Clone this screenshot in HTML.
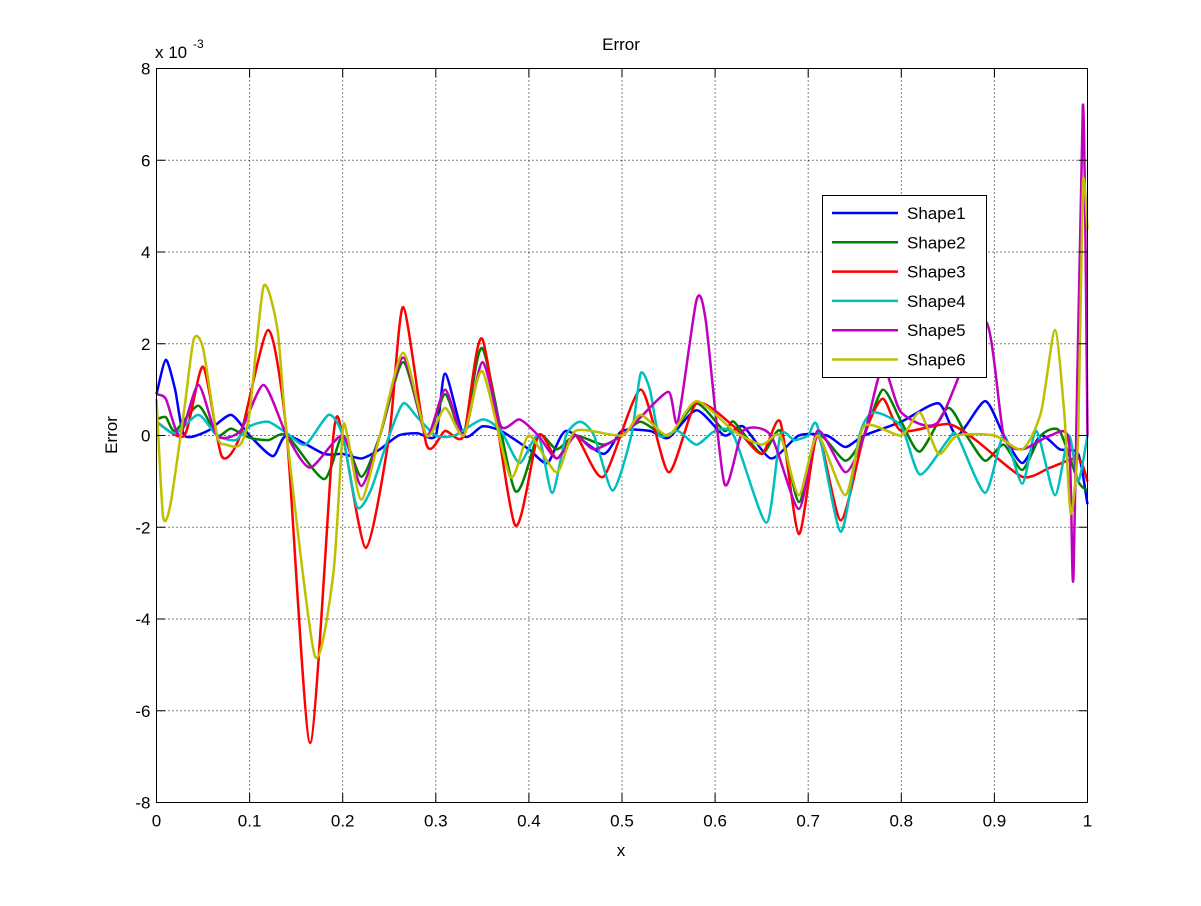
<!DOCTYPE html>
<html><head><meta charset="utf-8"><style>
body{margin:0;background:#fff}
svg text{font-family:"Liberation Sans",sans-serif;fill:#000}
</style></head><body>
<svg id="s" width="1201" height="901" xmlns="http://www.w3.org/2000/svg">
<rect width="1201" height="901" fill="#fff"/>
<g id="grid" stroke="#000" stroke-width="1" stroke-dasharray="1,3" fill="none"></g>
<g id="series" fill="none" stroke-width="2.5" stroke-linejoin="round"></g>
<rect x="156.5" y="68.5" width="931" height="734" fill="none" stroke="#000"/>
<g id="ticks" stroke="#000"></g>
<g id="labels" font-size="17"></g>
<text x="621" y="50" font-size="17" text-anchor="middle">Error</text>
<text x="155" y="58" font-size="17">x 10</text><text x="193" y="48" font-size="12">-3</text>
<text x="621" y="856" font-size="17" text-anchor="middle">x</text>
<text transform="translate(117,435) rotate(-90)" font-size="17" text-anchor="middle">Error</text>
<g>
<rect x="822.5" y="195.5" width="164" height="182" fill="#fff" stroke="#000"/>
<g id="leg" font-size="17"></g>
</g>
</svg>
<script>
const L=156.5,R=1087.5,T=68.5,B=802.5;
const X=x=>L+(R-L)*x, Y=v=>T+(B-T)*(8-v)/16;
const NS="http://www.w3.org/2000/svg";
function el(p,t,a,txt){const e=document.createElementNS(NS,t);for(const k in a)e.setAttribute(k,a[k]);if(txt!=null)e.textContent=txt;document.getElementById(p).appendChild(e);return e;}
for(let i=1;i<10;i++){el('grid','line',{x1:X(i/10),x2:X(i/10),y1:T,y2:B});}
for(let v=-6;v<=6;v+=2){el('grid','line',{x1:L,x2:R,y1:Y(v),y2:Y(v)});}
for(let i=0;i<=10;i++){const x=X(i/10);el('ticks','line',{x1:x,x2:x,y1:B,y2:B-9});el('ticks','line',{x1:x,x2:x,y1:T,y2:T+9});
el('labels','text',{x:x,y:B+24,'text-anchor':'middle'},i==0?'0':i==10?'1':'0.'+i);}
for(let v=-8;v<=8;v+=2){const y=Y(v);el('ticks','line',{x1:L,x2:L+9,y1:y,y2:y});el('ticks','line',{x1:R,x2:R-9,y1:y,y2:y});
el('labels','text',{x:L-6,y:y+6,'text-anchor':'end'},String(v));}
const D={
'#0000ff':[0,0.9,0.01,1.65,0.02,1.0,0.03,0,0.055,0.1,0.08,0.45,0.1,0,0.125,-0.45,0.14,0,0.18,-0.4,0.2,-0.4,0.22,-0.5,0.24,-0.3,0.26,0.0,0.28,0.05,0.3,0,0.31,1.35,0.33,0,0.35,0.2,0.37,0.1,0.4,-0.3,0.42,-0.6,0.44,0.1,0.48,-0.4,0.5,0.1,0.53,0.1,0.55,-0.05,0.58,0.55,0.61,0,0.63,0.2,0.66,-0.5,0.69,0,0.72,0,0.74,-0.25,0.76,0,0.8,0.3,0.84,0.7,0.86,0,0.89,0.75,0.91,0,0.93,-0.6,0.95,0,0.97,-0.3,0.99,-0.4,1.0,-1.5],
'#008000':[0,0.35,0.01,0.4,0.02,0.1,0.045,0.65,0.065,0,0.08,0.15,0.1,-0.05,0.12,-0.1,0.14,0,0.18,-0.95,0.2,0,0.22,-0.9,0.24,0,0.265,1.6,0.29,0,0.31,0.9,0.33,0,0.35,1.9,0.385,-1.2,0.41,0,0.43,-0.3,0.45,0,0.48,-0.2,0.5,0,0.52,0.3,0.55,0,0.58,0.7,0.61,0.1,0.62,0.3,0.65,-0.4,0.67,0.1,0.69,-1.45,0.71,0,0.74,-0.55,0.76,0,0.78,1.0,0.8,0.3,0.82,-0.35,0.85,0.6,0.87,0,0.89,-0.55,0.91,-0.2,0.93,-0.75,0.95,0,0.97,0.1,0.99,-1.0,1.0,-1.2],
'#ff0000':[0,0.3,0.03,0,0.05,1.5,0.07,-0.45,0.09,0,0.12,2.3,0.14,0,0.165,-6.7,0.19,0,0.2,0,0.225,-2.45,0.25,0,0.265,2.8,0.29,-0.2,0.31,0.1,0.33,0,0.35,2.1,0.385,-1.95,0.41,0,0.43,-0.5,0.45,0,0.48,-0.9,0.52,1.0,0.55,-0.8,0.58,0.7,0.62,0.2,0.65,-0.4,0.67,0.3,0.69,-2.15,0.71,0,0.735,-1.85,0.76,0,0.78,0.8,0.8,0.1,0.85,0.25,0.88,-0.1,0.93,-0.9,0.96,-0.7,0.99,-0.5,1.0,-1.0],
'#00bfbf':[0,0.3,0.02,0.05,0.045,0.45,0.065,0,0.085,-0.1,0.1,0.2,0.12,0.3,0.14,0.05,0.16,-0.2,0.185,0.45,0.2,0.0,0.215,-1.55,0.23,-1.2,0.25,0,0.265,0.7,0.28,0.4,0.3,0,0.32,0.0,0.35,0.35,0.37,0.1,0.39,-0.6,0.41,0,0.425,-1.25,0.44,0,0.455,0.3,0.47,0,0.49,-1.2,0.51,0,0.52,1.35,0.53,1.0,0.54,0,0.56,0.1,0.58,-0.2,0.6,0.1,0.62,0,0.655,-1.9,0.67,0,0.685,-0.1,0.7,0,0.71,0.2,0.735,-2.1,0.755,0,0.77,0.5,0.8,0.2,0.82,-0.85,0.85,-0.1,0.86,0,0.89,-1.25,0.91,0,0.93,-1.05,0.945,0.1,0.965,-1.3,0.98,0,0.99,-1,1.0,0],
'#bf00bf':[0,0.9,0.01,0.8,0.025,0,0.045,1.1,0.065,0,0.09,0.1,0.115,1.1,0.14,0,0.165,-0.7,0.2,0,0.22,-1.1,0.24,0,0.265,1.7,0.29,0,0.31,1.0,0.33,0,0.35,1.6,0.37,0.2,0.39,0.35,0.41,0,0.43,-0.5,0.45,0,0.47,-0.3,0.5,0,0.52,0.4,0.55,0.95,0.56,0.3,0.58,2.95,0.59,2.5,0.61,-1.05,0.63,0.1,0.66,0,0.69,-1.6,0.71,0.1,0.74,-0.8,0.76,0,0.78,1.5,0.8,0.5,0.84,0.3,0.89,2.5,0.91,0,0.93,-0.3,0.96,0,0.98,-0.1,0.985,-3.05,0.995,7.2,1.0,0],
'#bfbf00':[0,0.8,0.007,-1.75,0.015,-1.5,0.03,0.6,0.04,2.1,0.05,1.9,0.065,0,0.075,-0.2,0.09,-0.2,0.1,0.5,0.115,3.25,0.13,2.3,0.14,0,0.17,-4.8,0.19,-3,0.2,0.1,0.205,0,0.22,-1.4,0.24,0,0.265,1.8,0.29,0,0.31,0.6,0.33,0,0.35,1.4,0.38,-0.9,0.4,0,0.43,-0.8,0.45,0.1,0.5,0,0.52,0.45,0.55,0,0.58,0.75,0.62,0.1,0.65,-0.2,0.67,0,0.69,-1.3,0.71,0,0.74,-1.3,0.76,0.2,0.8,0,0.82,0.5,0.84,-0.4,0.86,0,0.9,0,0.93,-0.3,0.95,0.5,0.965,2.3,0.975,0.5,0.982,-1.7,0.99,0,0.995,5.5,1.0,4.5]};
function path(a){const p=[];for(let i=0;i<a.length;i+=2)p.push([X(a[i]),Y(a[i+1])]);
let d='M'+p[0][0]+','+p[0][1];
for(let i=0;i<p.length-1;i++){const p0=p[Math.max(0,i-1)],p1=p[i],p2=p[i+1],p3=p[Math.min(p.length-1,i+2)];
const t=0.35/3;d+=' C'+(p1[0]+(p2[0]-p0[0])*t)+','+(p1[1]+(p2[1]-p0[1])*t)+' '+(p2[0]-(p3[0]-p1[0])*t)+','+(p2[1]-(p3[1]-p1[1])*t)+' '+p2[0]+','+p2[1];}
return d;}
for(const c in D)el('series','path',{d:path(D[c]),stroke:c});
const names=['Shape1','Shape2','Shape3','Shape4','Shape5','Shape6'];let i=0;
for(const c in D){const y=213+i*29.3;el('leg','line',{x1:832,x2:898,y1:y,y2:y,stroke:c,'stroke-width':2.5});el('leg','text',{x:907,y:y+6},names[i]);i++;}
</script>
</body></html>
